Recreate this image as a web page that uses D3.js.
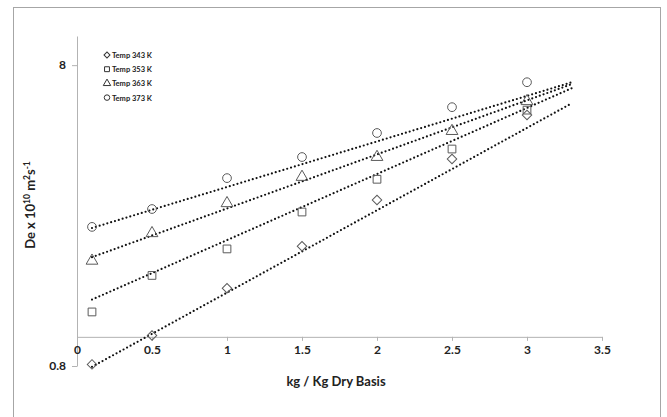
<!DOCTYPE html>
<html>
<head>
<meta charset="utf-8">
<script src="https://cdn.jsdelivr.net/npm/d3@7"></script>
<style>
  body { margin: 0; background: #fff; }
  text { font-family: Lato, "Open Sans", sans-serif; }
</style>
</head>
<body>
<div id="canvas"></div>
<script>
const canvas = d3.select("#canvas");

// moisture content (kg / kg dry basis)
const moisture = [0.1, 0.5, 1, 1.5, 2, 2.5, 3];
const seriesNames = ["Temp 343 K", "Temp 353 K", "Temp 363 K", "Temp 373 K"];
const de343 = [0.81, 1.01, 1.45, 2.0, 2.85, 3.9, 5.46];
const de353 = [1.21, 1.6, 1.96, 2.6, 3.34, 4.21, 5.67];
const de363 = [1.79, 2.21, 2.78, 3.4, 3.96, 4.83, 6.07];
const de373 = [2.32, 2.66, 3.37, 3.96, 4.76, 5.8, 7.02];
// exponential trendlines as drawn: value at x = 0.1 and at x = 3.3
const trendX = [0.1, 3.3];
const trend343 = [0.795, 5.98];
const trend353 = [1.33, 6.71];
const trend363 = [1.84, 6.92];
const trend373 = [2.3, 7.02];
const xTicks = [0, 0.5, 1, 1.5, 2, 2.5, 3, 3.5];
const yTicks = [0.8, 8];

const createChart = () => {
  const width = 667;
  const height = 417;
  const margin = { top: 36, left: 77 };
  const iwidth = 602 - margin.left;

  const svg = canvas.append("svg")
    .attr("width", width)
    .attr("height", height);

  // outer frame
  svg.append("rect")
    .attr("x", 13.5).attr("y", 7.5)
    .attr("width", 647).attr("height", 420)
    .attr("fill", "none").attr("stroke", "#a6a6a6");

  const x = d3.scaleLinear().domain([0, 3.5]).range([margin.left, margin.left + iwidth]);
  const y = d3.scaleLog().domain([0.8, 10]).range([366, margin.top]);

  const axisColor = "#b3b3b3";

  // y axis (log)
  const yAxis = svg.append("g")
    .attr("transform", `translate(${margin.left},0)`)
    .call(d3.axisLeft(y).tickValues(yTicks).tickFormat(d3.format("")).tickSize(5).tickSizeOuter(0));
  yAxis.select(".domain").attr("stroke", axisColor);
  yAxis.selectAll(".tick line").attr("stroke", axisColor);
  yAxis.selectAll(".tick text")
    .attr("font-size", 12).attr("font-weight", "bold").attr("fill", "#222").attr("x", -11);

  // x axis crossing at y = 1
  const xAxis = svg.append("g")
    .attr("transform", `translate(0,${y(1)})`)
    .call(d3.axisBottom(x).tickValues(xTicks).tickFormat(d3.format("")).tickSize(4).tickSizeOuter(0));
  xAxis.select(".domain").attr("stroke", axisColor);
  xAxis.selectAll(".tick line").attr("stroke", axisColor);
  xAxis.selectAll(".tick text")
    .attr("font-size", 12).attr("font-weight", "bold").attr("fill", "#222").attr("y", 9);

  // axis titles
  svg.append("text")
    .attr("x", 336).attr("y", 386)
    .attr("text-anchor", "middle")
    .attr("font-size", 13).attr("font-weight", "bold").attr("fill", "#222")
    .text("kg / Kg Dry Basis");

  const yt = svg.append("text")
    .attr("transform", "translate(35,205) rotate(-90)")
    .attr("text-anchor", "middle")
    .attr("font-size", 13).attr("font-weight", "bold").attr("fill", "#222");
  yt.append("tspan").text("De x 10");
  yt.append("tspan").attr("font-size", 8.5).attr("dy", -5).text("10");
  yt.append("tspan").attr("dy", 5).text(" m");
  yt.append("tspan").attr("font-size", 8.5).attr("dy", -5).text("2");
  yt.append("tspan").attr("dy", 5).text("s");
  yt.append("tspan").attr("font-size", 8.5).attr("dy", -5).text("-1");

  const allSeries = [de343, de353, de363, de373];
  const allTrends = [trend343, trend353, trend363, trend373];
  const symbols = [d3.symbolSquare, d3.symbolSquare, d3.symbolTriangle, d3.symbolCircle];
  const rotations = [45, 0, 0, 0];
  const sizes = [45, 60, 60, 60];
  const markerColor = "#5a5a5a";

  // trendlines (straight on log axis)
  allTrends.forEach((tv) => {
    svg.append("path")
      .datum(tv)
      .attr("d", d3.line().x((d, i) => x(trendX[i])).y((d) => y(d)))
      .attr("fill", "none")
      .attr("stroke", "#111")
      .attr("stroke-width", 2.2)
      .attr("stroke-linecap", "round")
      .attr("stroke-dasharray", "0 4");
  });

  // markers
  allSeries.forEach((vals, s) => {
    svg.append("g").selectAll("path")
      .data(vals)
      .enter()
      .append("path")
      .attr("d", d3.symbol().type(symbols[s]).size(sizes[s]))
      .attr("transform", (d, i) => `translate(${x(moisture[i])},${y(d)}) rotate(${rotations[s]})`)
      .attr("fill", "none")
      .attr("stroke", markerColor)
      .attr("stroke-width", 1);
  });

  // legend
  const legend = svg.append("g").attr("transform", "translate(107,55)");
  seriesNames.forEach((name, i) => {
    const row = legend.append("g").attr("transform", `translate(0,${i * 14.2})`);
    row.append("path")
      .attr("d", d3.symbol().type(symbols[i]).size(sizes[i] * 0.4))
      .attr("transform", `rotate(${rotations[i]})`)
      .attr("fill", "none").attr("stroke", "#333");
    row.append("text")
      .attr("x", 5).attr("y", 3)
      .attr("font-size", 7.5).attr("font-weight", "bold").attr("fill", "#222")
      .text(name);
  });
};

createChart();
</script>
</body>
</html>
